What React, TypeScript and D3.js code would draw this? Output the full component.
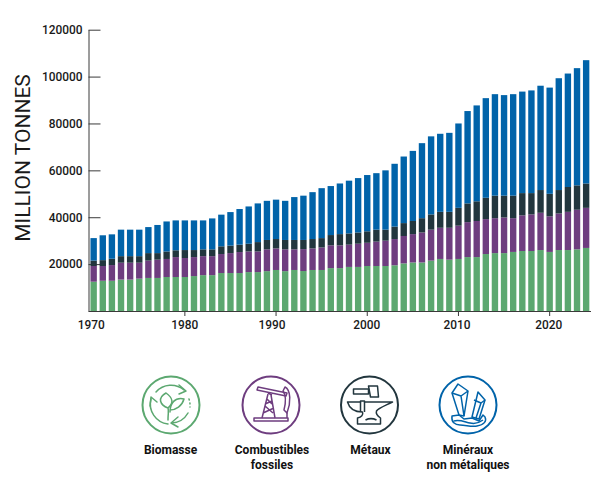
import * as React from 'react';
import * as d3 from 'd3';

const years = d3.range(1970, 2025);

const biomasse = [
  12500, 12900, 12900, 13400, 13400, 13800, 14100, 14100, 14500, 14500, 14500, 14900, 15300, 15300, 16200, 16200,
  16200, 16600, 16600, 17000, 17500, 17000, 17500, 17050, 17500, 17500, 18300, 18300, 18800, 18800, 19200, 19200,
  19200, 19500, 20300, 20700, 20700, 21500, 22200, 21900, 22200, 23000, 23000, 24300, 24700, 24700, 25200, 25600,
  25600, 26000, 25200, 26000, 26000, 26300, 26900
];
const combustibles = [
  6700, 6300, 6700, 7200, 7200, 6800, 7400, 7800, 7700, 8500, 8100, 8100, 8100, 8100, 8100, 8500, 8950, 8800, 8800,
  9300, 9200, 9300, 8800, 9350, 9200, 9600, 9700, 9700, 9500, 9900, 9900, 10400, 10800, 11200, 11700, 12100, 12800,
  13200, 13300, 13600, 14200, 14900, 15400, 14900, 14900, 15200, 14400, 15200, 15600, 15900, 15200, 15600, 16300,
  16900, 17100
];
const metaux = [
  2300, 2500, 2700, 2800, 2800, 2800, 3200, 2800, 3200, 2900, 3400, 3000, 2900, 2900, 3300, 3200, 3150, 3300, 4000,
  4000, 4000, 4000, 4000, 3900, 4000, 4000, 4400, 4800, 4800, 4800, 4900, 5100, 4700, 5300, 5500, 5600, 6100, 6500,
  6800, 6800, 7600, 8000, 8400, 9100, 9600, 9300, 9600, 9500, 9100, 9700, 9600, 10000, 10600, 10400, 10400
];
const mineraux = [
  9600, 10600, 10400, 11300, 11300, 11300, 11100, 12000, 12800, 12750, 12650, 12650, 12350, 13200, 13500, 14300,
  15200, 15900, 16500, 16700, 16800, 16700, 18300, 18900, 20000, 21300, 20900, 21600, 22500, 23200, 24000, 24100,
  25300, 26800, 28400, 29900, 32000, 33300, 33300, 33700, 36000, 39400, 40900, 42500, 43300, 42900, 43300, 43300,
  43800, 44500, 45300, 47700, 48400, 50000, 52600
];

const seriesKeys = ['biomasse', 'combustibles', 'metaux', 'mineraux'];
const seriesColors = ['#5ca870', '#6e3d7f', '#22363e', '#0063a9'];
const yTicks = [20000, 40000, 60000, 80000, 100000, 120000];
const xTicks = [1970, 1980, 1990, 2000, 2010, 2020];
// the labels in the reference sit a little off their ticks
const xLabelShift: Record<number, number> = {1970: -2.5, 1990: -4, 2000: -0.5, 2010: -1.5, 2020: -1};

const svgWidth = 600;
const svgHeight = 479;

const Biomass = () => (
  <g transform="translate(171,405)" fill="none" stroke={seriesColors[0]} strokeWidth={1.5} strokeLinecap="round" strokeLinejoin="round">
    <circle r={28.5} strokeWidth={2} />
    <path d="M-15,-13 A20,20 0 0 1 13,-15" />
    <path d="M8,-20 L15,-14 L8,-11" />
    <path d="M-20,-6 A20,20 0 0 0 -3,19" />
    <path d="M-21,1 L-20,-8 L-14,-3" />
    <path d="M1,18 A20,20 0 0 0 17,8" />
    <path d="M7,12 L0,18 L7,22" />
    <path d="M18,-6 A20,20 0 0 1 19,2" strokeDasharray="1 3" />
    <path d="M-3,15 C-3,8 -2,6 -3,3 C-11,0 -14,-7 -5,-12 C2,-7 3,-2 -3,3" />
    <path d="M-1,7 C-1,-2 4,-8 13,-6 C11,1 5,5 -1,5" />
  </g>
);

const Fossil = () => (
  <g transform="translate(271,405)" fill="none" stroke={seriesColors[1]} strokeWidth={1.5} strokeLinejoin="round">
    <circle r={28.5} strokeWidth={2} />
    <path d="M-13,-18 L16,-12 L15,-9 L-14,-15 Z" />
    <path d="M14,-18 C20,-15 20,-2 16,8 L13,5 C15,-3 15,-10 12,-14 Z" />
    <path d="M-17,13 H17 V16 H-17 Z" />
    <path d="M-9,13 L-3,-11 M4,13 L0,-10 M-8,8 L3,3 M-6,1 L2,8 M-6,-1 L1,-4 M-4,-6 L1,-1" />
    <path d="M16,8 V13 M-3,-12 L1,-10" />
  </g>
);

const Metal = () => (
  <g transform="translate(369.5,405)" fill="none" stroke={seriesColors[2]} strokeWidth={1.5} strokeLinejoin="round">
    <circle r={28.5} strokeWidth={2} />
    <path d="M-16,-16 H-1 V-11 H-16 Z" />
    <path d="M-1,-19 H8 L9,-8 H1 Z" />
    <path d="M-22,-3 H-9 V-4 H-5 V-3 H23 C15,1 9,3 7,6 C6,9 8,11 11,13 V19 H-12 V13 C-8,12 -6,10 -7,7 C-14,7 -20,4 -22,-3 Z" />
    <path d="M-9,-3 V7 M-5,-3 V7 M-4,15 C0,13 3,13 7,15" />
  </g>
);

const Mineral = () => (
  <g transform="translate(468,405)" fill="none" stroke={seriesColors[3]} strokeWidth={1.5} strokeLinejoin="round">
    <circle r={28.5} strokeWidth={2} />
    <path d="M-16,-12 L-10,-21 L0,-14 L-4,11 L-9,10 Z" />
    <path d="M-16,-12 L-7,-9 L0,-14 M-7,-9 L-4,11" />
    <path d="M4,12 L10,-13 L17,-5 L11,14 Z" />
    <path d="M6,-5 L13,-2 L17,-5 M13,-2 L8,13" />
    <path d="M-16,11 L-9,10 L-4,14 L4,13 L11,16 L15,10 L17,12 C19,16 16,20 9,21 C3,22 -2,20 -8,20 C-13,20 -17,17 -16,11 Z" />
    <path d="M-14,16 C-9,14 -3,17 2,18 C6,19 11,18 15,15" />
  </g>
);

const legendItems = [
  {x: 170.5, lines: ['Biomasse']},
  {x: 272, lines: ['Combustibles', 'fossiles']},
  {x: 370.5, lines: ['Métaux']},
  {x: 468, lines: ['Minéraux', 'non métaliques']}
];

export default function App() {
  const ref = React.useRef<SVGGElement>(null);

  React.useEffect(() => {
    const g = d3.select(ref.current);
    g.selectAll('*').remove();

    const xScale = d3.scaleBand<number>().domain(years).range([89.1, 590.7]).paddingInner(0.3).paddingOuter(0.15);
    const yScale = d3.scaleLinear().domain([0, 120000]).range([311, 29.7]);

    const table = years.map((year, i) => ({
      year,
      biomasse: biomasse[i],
      combustibles: combustibles[i],
      metaux: metaux[i],
      mineraux: mineraux[i]
    }));
    const stacked = d3.stack<any>().keys(seriesKeys)(table);

    const yAxis = g
      .append('g')
      .attr('transform', 'translate(88.5,0)')
      .call(d3.axisLeft(yScale).tickValues(yTicks).tickFormat(d3.format('d')).tickSizeInner(-12).tickSizeOuter(0).tickPadding(6));
    const xAxis = g
      .append('g')
      .attr('transform', 'translate(0,311)')
      .call(d3.axisBottom(xScale).tickValues(xTicks).tickSizeInner(5).tickSizeOuter(0).tickPadding(5));

    [yAxis, xAxis].forEach(axis => {
      axis.selectAll('path,line').attr('stroke', '#3a3a3a').attr('stroke-width', 1);
      axis.selectAll('text').attr('fill', '#1a1a1a').style('font', '500 11.9px Roboto');
    });
    xAxis.selectAll<SVGTextElement, number>('text').attr('dx', d => xLabelShift[d] || 0);
    xAxis.select('.domain').attr('d', 'M88.5,0.5H591');
    // no tick mark under the first year
    xAxis.selectAll<SVGLineElement, number>('line').filter(d => d === 1970).remove();

    g.selectAll('.layer')
      .data(stacked)
      .enter()
      .append('g')
      .attr('class', 'layer')
      .attr('fill', (d, i) => seriesColors[i])
      .selectAll('rect')
      .data(d => d)
      .enter()
      .append('rect')
      .attr('x', d => xScale(d.data.year) as number)
      .attr('width', xScale.bandwidth())
      .attr('y', d => yScale(d[1]))
      .attr('height', d => yScale(d[0]) - yScale(d[1]));
  }, []);

  return (
    <svg width={svgWidth} height={svgHeight} style={{position: 'absolute', left: 0, top: 0}}>
      <g ref={ref} />
      <text
        transform="translate(29.5,158) rotate(-90)"
        textAnchor="middle"
        fontFamily="Roboto"
        fontSize={21}
        fill="#1a1a1a">
        MILLION TONNES
      </text>
      <Biomass />
      <Fossil />
      <Metal />
      <Mineral />
      {legendItems.map(item => (
        <text key={item.x} textAnchor="middle" fontFamily="Roboto" fontWeight={700} fontSize={12} fill="#111">
          {item.lines.map((line, i) => (
            <tspan key={line} x={item.x} y={454 + i * 14.5}>
              {line}
            </tspan>
          ))}
        </text>
      ))}
    </svg>
  );
}
